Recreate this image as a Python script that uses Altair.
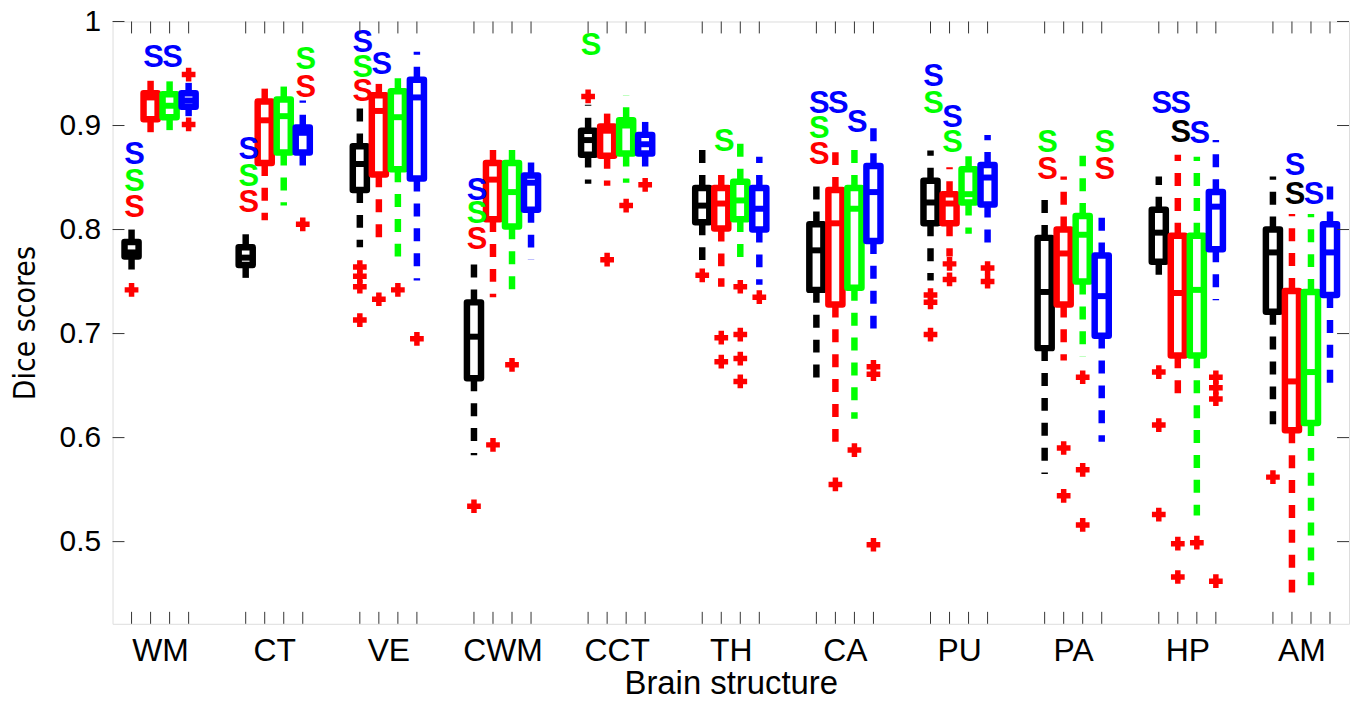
import altair as alt
import pandas as pd

groups = ["WM", "CT", "VE", "CWM", "CCT", "TH", "CA", "PU", "PA", "HP", "AM"]
methods = ["Method 1", "Method 2", "Method 3", "Method 4"]
colors = ["#000000", "#ff0000", "#00ff00", "#0000ff"]

# each row: one brain structure, values for the 4 methods
q1 = [
    [0.774, 0.906, 0.908, 0.918],
    [0.766, 0.864, 0.874, 0.874],
    [0.838, 0.853, 0.858, 0.849],
    [0.657, 0.810, 0.803, 0.819],
    [0.872, 0.871, 0.873, 0.873],
    [0.807, 0.801, 0.810, 0.800],
    [0.742, 0.728, 0.744, 0.789],
    [0.806, 0.806, 0.826, 0.824],
    [0.686, 0.728, 0.750, 0.698],
    [0.769, 0.679, 0.679, 0.781],
    [0.721, 0.607, 0.614, 0.737],
]
median = [
    [0.778, 0.927, 0.919, 0.924],
    [0.773, 0.905, 0.909, 0.893],
    [0.863, 0.914, 0.908, 0.927],
    [0.697, 0.848, 0.836, 0.845],
    [0.886, 0.895, 0.900, 0.882],
    [0.823, 0.825, 0.828, 0.820],
    [0.780, 0.806, 0.820, 0.836],
    [0.826, 0.825, 0.834, 0.850],
    [0.740, 0.777, 0.795, 0.736],
    [0.797, 0.739, 0.742, 0.822],
    [0.778, 0.654, 0.663, 0.778],
]
q3 = [
    [0.788, 0.931, 0.930, 0.931],
    [0.783, 0.923, 0.925, 0.898],
    [0.880, 0.929, 0.933, 0.944],
    [0.730, 0.864, 0.864, 0.852],
    [0.895, 0.899, 0.905, 0.891],
    [0.840, 0.840, 0.846, 0.840],
    [0.805, 0.838, 0.840, 0.861],
    [0.847, 0.834, 0.858, 0.862],
    [0.792, 0.800, 0.813, 0.775],
    [0.819, 0.794, 0.794, 0.836],
    [0.800, 0.741, 0.740, 0.805],
]
whisker_hi = [
    [0.800, 0.943, 0.943, 0.941],
    [0.803, 0.939, 0.944, 0.924],
    [0.926, 0.940, 0.953, 0.971],
    [0.768, 0.887, 0.885, 0.866],
    [0.920, 0.920, 0.929, 0.908],
    [0.882, 0.862, 0.883, 0.870],
    [0.849, 0.875, 0.879, 0.903],
    [0.876, 0.860, 0.879, 0.891],
    [0.835, 0.851, 0.871, 0.814],
    [0.851, 0.872, 0.870, 0.886],
    [0.851, 0.815, 0.815, 0.847],
]
whisker_lo = [
    [0.756, 0.885, 0.889, 0.909],
    [0.753, 0.809, 0.823, 0.850],
    [0.783, 0.785, 0.774, 0.751],
    [0.583, 0.735, 0.738, 0.771],
    [0.844, 0.842, 0.845, 0.849],
    [0.766, 0.745, 0.773, 0.747],
    [0.651, 0.589, 0.618, 0.704],
    [0.751, 0.774, 0.796, 0.778],
    [0.565, 0.674, 0.678, 0.596],
    [0.745, 0.638, 0.525, 0.732],
    [0.606, 0.443, 0.453, 0.651],
]
# outliers: (structure index, method index, value)
outliers = [
    (0, 0, 0.742), (0, 3, 0.949), (0, 3, 0.901),
    (1, 3, 0.805),
    (2, 0, 0.764), (2, 0, 0.755), (2, 0, 0.745), (2, 0, 0.713),
    (2, 1, 0.733), (2, 2, 0.742), (2, 3, 0.695),
    (3, 0, 0.534), (3, 1, 0.593), (3, 2, 0.670),
    (4, 0, 0.928), (4, 1, 0.771), (4, 2, 0.823), (4, 3, 0.843),
    (5, 0, 0.756), (5, 1, 0.696), (5, 1, 0.673),
    (5, 2, 0.745), (5, 2, 0.699), (5, 2, 0.676), (5, 2, 0.654), (5, 3, 0.735),
    (6, 1, 0.555), (6, 2, 0.588), (6, 3, 0.668), (6, 3, 0.661), (6, 3, 0.497),
    (7, 0, 0.737), (7, 0, 0.730), (7, 0, 0.699), (7, 1, 0.767), (7, 1, 0.752),
    (7, 3, 0.763), (7, 3, 0.750),
    (8, 1, 0.590), (8, 1, 0.544), (8, 2, 0.658), (8, 2, 0.569), (8, 2, 0.516),
    (9, 0, 0.663), (9, 0, 0.612), (9, 0, 0.526), (9, 1, 0.498), (9, 1, 0.466),
    (9, 2, 0.499), (9, 3, 0.658), (9, 3, 0.648), (9, 3, 0.637), (9, 3, 0.462),
    (10, 0, 0.562),
]
# significance marks "S": (structure index, box method index, colour method index, value)
sig_marks = [
    (0, 0, 1, 0.821), (0, 0, 2, 0.846), (0, 0, 3, 0.872), (0, 1, 3, 0.965), (0, 2, 3, 0.965),
    (1, 0, 1, 0.825), (1, 0, 2, 0.850), (1, 0, 3, 0.876), (1, 3, 1, 0.936), (1, 3, 2, 0.963),
    (2, 0, 1, 0.932), (2, 0, 2, 0.955), (2, 0, 3, 0.979), (2, 1, 3, 0.958),
    (3, 0, 1, 0.790), (3, 0, 2, 0.815), (3, 0, 3, 0.837),
    (4, 0, 2, 0.976),
    (5, 1, 2, 0.884),
    (6, 0, 1, 0.872), (6, 0, 2, 0.897), (6, 0, 3, 0.921), (6, 1, 3, 0.921), (6, 2, 3, 0.902),
    (7, 0, 2, 0.921), (7, 0, 3, 0.947), (7, 1, 2, 0.883), (7, 1, 3, 0.907),
    (8, 0, 1, 0.857), (8, 0, 2, 0.883), (8, 3, 1, 0.857), (8, 3, 2, 0.883),
    (9, 0, 3, 0.921), (9, 1, 0, 0.893), (9, 1, 3, 0.921), (9, 2, 3, 0.892),
    (10, 1, 0, 0.833), (10, 1, 3, 0.861), (10, 2, 3, 0.833),
]
y_ticks = [0.5, 0.6, 0.7, 0.8, 0.9, 1.0]

GAP = 6  # slots per structure (4 boxes + 2 spacing)


def slot(g, m):
    return GAP * g + m + 1


rows = []
for g, name in enumerate(groups):
    for m, meth in enumerate(methods):
        rows.append(dict(structure=name, method=meth, pos=slot(g, m),
                         q1=q1[g][m], med=median[g][m], q3=q3[g][m],
                         lo=whisker_lo[g][m], hi=whisker_hi[g][m]))
boxes = pd.DataFrame(rows)
out_df = pd.DataFrame([dict(pos=slot(g, m), v=v, method=methods[m]) for g, m, v in outliers])
sig_df = pd.DataFrame([dict(pos=slot(g, m), v=v, method=methods[c], label="S")
                       for g, m, c, v in sig_marks])
ytick_df = pd.DataFrame({"v": y_ticks})
centers = [GAP * g + 2.5 for g in range(len(groups))]

W, H = 1242, 605
XDOM = [0, 65]
YDOM = [0.421, 1.0]
FONT = "Liberation Sans"

label_expr = "[" + ",".join("'%s'" % s for s in groups) + "][round((datum.value-2.5)/6)]"

xscale = alt.Scale(domain=XDOM, nice=False, zero=False)
yscale = alt.Scale(domain=YDOM, nice=False, zero=False)
cscale = alt.Scale(domain=methods, range=colors)
color = alt.Color("method:N", scale=cscale, legend=None)

x_axis = alt.Axis(values=centers, labelExpr=label_expr, ticks=False, domain=False, grid=False,
                  labelFontSize=32, labelFont=FONT, labelColor="black", labelPadding=12,
                  title="Brain structure", titleFontSize=33, titleFont=FONT, titleFontWeight="normal",
                  titleColor="black", titleY=70, titleBaseline="alphabetic")
y_axis = alt.Axis(values=y_ticks, format=".1~f", ticks=False, domain=False, grid=False,
                  labelFontSize=30, labelFont=FONT, labelColor="black", labelPadding=12,
                  title="Dice scores", titleFontSize=30,
                  titleFont="Liberation Sans Narrow, DejaVu Sans Condensed, Liberation Sans",
                  titleFontWeight="normal", titleColor="black", titleX=-87, titleBaseline="middle")

base = alt.Chart(boxes)

whisk_up = base.mark_rule(strokeWidth=6.5, strokeDash=[13, 12]).encode(
    x=alt.X("pos:Q", scale=xscale, axis=x_axis), y=alt.Y("q3:Q", scale=yscale, axis=y_axis),
    y2="hi:Q", color=color)
whisk_dn = base.mark_rule(strokeWidth=6.5, strokeDash=[13, 12]).encode(
    x=alt.X("pos:Q", scale=xscale), y=alt.Y("q1:Q", scale=yscale), y2="lo:Q", color=color)
box = base.transform_calculate(xl="datum.pos-0.37", xr="datum.pos+0.37").mark_rect(
    fill="white", strokeWidth=6.5, strokeJoin="round").encode(
    x=alt.X("xl:Q", scale=xscale), x2="xr:Q", y=alt.Y("q1:Q", scale=yscale), y2="q3:Q",
    stroke=alt.Stroke("method:N", scale=cscale, legend=None))
med_line = base.transform_calculate(xl="datum.pos-0.37", xr="datum.pos+0.37").mark_rule(
    strokeWidth=6).encode(
    x=alt.X("xl:Q", scale=xscale), x2="xr:Q", y=alt.Y("med:Q", scale=yscale), color=color)
outs = alt.Chart(out_df).mark_point(shape="cross", filled=True, size=190, color="#ff0000",
                                     opacity=1, strokeWidth=0).encode(
    x=alt.X("pos:Q", scale=xscale), y=alt.Y("v:Q", scale=yscale))
sigs = alt.Chart(sig_df).mark_text(fontSize=31, font=FONT, fontWeight="bold", dx=3,
                                   baseline="middle").encode(
    x=alt.X("pos:Q", scale=xscale), y=alt.Y("v:Q", scale=yscale), text="label:N", color=color)

tick_style = dict(color="#333333", strokeWidth=1)
lt = alt.Chart(ytick_df).mark_rule(**tick_style).encode(
    y=alt.Y("v:Q", scale=yscale), x=alt.value(0), x2=alt.value(12))
rt = alt.Chart(ytick_df).mark_rule(**tick_style).encode(
    y=alt.Y("v:Q", scale=yscale), x=alt.value(W), x2=alt.value(W - 12))
bt = base.mark_rule(**tick_style).encode(
    x=alt.X("pos:Q", scale=xscale), y=alt.value(H), y2=alt.value(H - 12))
tt = base.mark_rule(**tick_style).encode(
    x=alt.X("pos:Q", scale=xscale), y=alt.value(0), y2=alt.value(12))

chart = alt.layer(whisk_up, whisk_dn, box, med_line, outs, sigs, lt, rt, bt, tt).properties(
    width=W, height=H,
    autosize=alt.AutoSizeParams(type="none"),
    padding={"left": 105, "top": 12, "right": 4, "bottom": 78},
).configure_view(stroke="#333333", strokeWidth=1.2).configure(background="white")

chart.save("out.html", embed_options={"renderer": "svg", "actions": False})
